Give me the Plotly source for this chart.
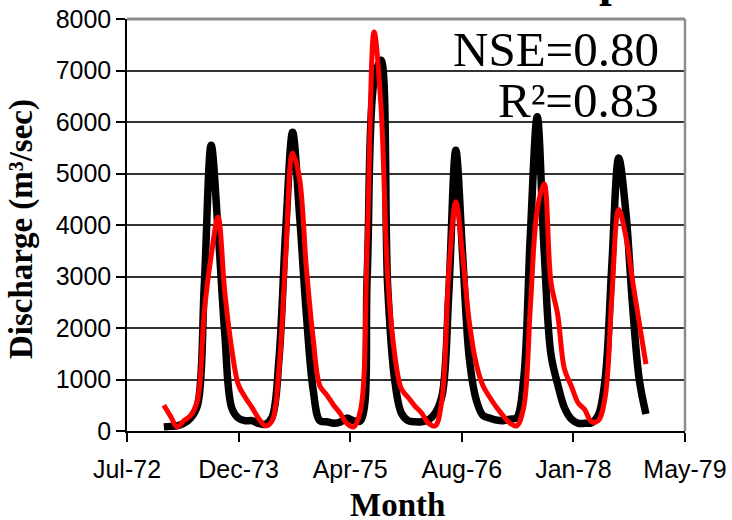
import pandas as pd
import plotly.graph_objects as go

# Monthly discharge, Jan 1973 - Dec 1978 (m3/sec)
months = pd.date_range("1973-01-01", "1978-12-01", freq="MS")

observed = [
    80, 90, 100, 150, 250, 500, 2800, 5550, 3900, 1900, 450, 250,
    200, 200, 150, 130, 270, 1400, 3900, 5800, 4200, 2300, 800, 200,
    180, 150, 170, 250, 200, 200, 3000, 6800, 7200, 2800, 1000, 350,
    200, 180, 180, 220, 350, 700, 2700, 5450, 3400, 1400, 600, 300,
    250, 210, 200, 230, 260, 1000, 3800, 6100, 3500, 1500, 900, 450,
    230, 150, 150, 160, 300, 1000, 3200, 5300, 4300, 2500, 1000, 330,
]

simulated = [
    500, 280, 80, 200, 300, 600, 2300, 3400, 4150, 2700, 1600, 900,
    650, 450, 250, 100, 200, 1200, 3400, 5400, 4900, 3200, 1800, 880,
    700, 500, 350, 150, 80, 400, 3600, 7750, 6300, 3000, 1500, 820,
    650, 480, 350, 150, 100, 650, 3100, 4450, 3400, 2100, 1300, 880,
    650, 450, 300, 150, 100, 450, 2400, 4300, 4800, 2900, 2250, 1200,
    870, 540, 420, 180, 200, 650, 2600, 4300, 3800, 2950, 2100, 1300,
]

x_tick_labels = ["Jul-72", "Dec-73", "Apr-75", "Aug-76", "Jan-78", "May-79"]
axis_start = pd.Timestamp("1972-07-20")
tick_step_days = 500
x_tick_vals = [axis_start + pd.Timedelta(days=tick_step_days * i) for i in range(len(x_tick_labels))]

y_tick_vals = [0, 1000, 2000, 3000, 4000, 5000, 6000, 7000, 8000]
y_tick_labels = [str(v) for v in y_tick_vals]

nse_text = "NSE=0.80"
r2_text = "R²=0.83"
y_title = "<b>Discharge (m³/sec)</b>"
x_title = "<b>Month</b>"

fig = go.Figure()
fig.add_trace(go.Scatter(
    x=months, y=observed, mode="lines",
    line=dict(color="#000000", width=7.5, shape="spline", smoothing=1.0),
    name="Observed", showlegend=False,
))
fig.add_trace(go.Scatter(
    x=months, y=simulated, mode="lines",
    line=dict(color="#ff0000", width=5, shape="spline", smoothing=1.0),
    name="Simulated", showlegend=False,
))

tick_font = dict(family="Liberation Sans, Arial", size=25, color="#000000")
serif = "Liberation Serif, Times New Roman"

fig.update_layout(
    width=732, height=520,
    margin=dict(l=127, r=47, t=19, b=89),
    paper_bgcolor="white", plot_bgcolor="white",
    xaxis=dict(
        type="date", automargin=False,
        range=[x_tick_vals[0], x_tick_vals[-1]],
        tickmode="array", tickvals=x_tick_vals, ticktext=x_tick_labels,
        showgrid=False, zeroline=False,
        showline=True, linecolor="#000000", linewidth=1.5,
        ticks="outside", ticklen=9, tickwidth=1.5, tickcolor="#000000",
        tickfont=tick_font, ticklabelstandoff=6,
    ),
    yaxis=dict(
        automargin=False,
        range=[0, 8000],
        tickmode="array", tickvals=y_tick_vals, ticktext=y_tick_labels,
        showgrid=True, gridcolor="#333333", gridwidth=1.5,
        zeroline=False,
        showline=True, linecolor="#000000", linewidth=1.5,
        ticks="outside", ticklen=9, tickwidth=1.5, tickcolor="#000000",
        tickfont=tick_font,
    ),
    shapes=[
        dict(type="line", xref="paper", yref="paper", x0=0, x1=1, y0=1, y1=1,
             line=dict(color="#8c8c8c", width=3)),
        dict(type="line", xref="paper", yref="paper", x0=1, x1=1, y0=0, y1=1,
             line=dict(color="#8c8c8c", width=2.5)),
    ],
    annotations=[
        dict(text=nse_text, xref="paper", yref="paper", x=0.957, y=0.927,
             xanchor="right", yanchor="middle", showarrow=False,
             font=dict(family=serif, size=49, color="#000000")),
        dict(text=r2_text, xref="paper", yref="paper", x=0.957, y=0.803,
             xanchor="right", yanchor="middle", showarrow=False,
             font=dict(family=serif, size=49, color="#000000")),
        dict(text=y_title, xref="paper", yref="paper",
             x=-0.19, y=0.49, textangle=-90, xanchor="center", yanchor="middle",
             showarrow=False,
             font=dict(family=serif, size=33, color="#000000")),
        dict(text=x_title, xref="paper", yref="paper", x=0.484, y=-0.18,
             xanchor="center", yanchor="middle", showarrow=False,
             font=dict(family=serif, size=33, color="#000000")),
        dict(text="<b>p</b>", xref="paper", yref="paper", x=0.869, y=1.094,
             xanchor="center", yanchor="middle", showarrow=False,
             font=dict(family=serif, size=46, color="#000000")),
    ],
)

fig.write_html("out.html")
